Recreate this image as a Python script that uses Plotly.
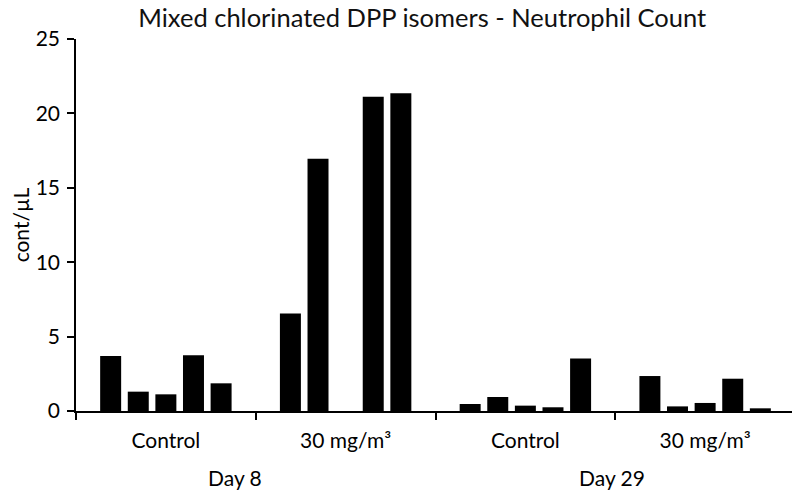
import plotly.graph_objects as go

groups = ["D8 Control", "D8 30", "D29 Control", "D29 30"]
group_labels = ["Control", "30 mg/m³", "Control", "30 mg/m³"]
day_labels = ["Day 8", "Day 29"]

# values per animal (series) across the four groups
animal1 = [3.70, 6.55, 0.47, 2.35]
animal2 = [1.30, 16.95, 0.94, 0.31]
animal3 = [1.12, None, 0.36, 0.54]
animal4 = [3.75, 21.12, 0.25, 2.17]
animal5 = [1.86, 21.36, 3.53, 0.18]

series = [animal1, animal2, animal3, animal4, animal5]

FONT = "Lato"
fig = go.Figure()
for s in series:
    fig.add_trace(go.Bar(x=groups, y=s, marker=dict(color="black", line=dict(width=0)),
                         showlegend=False))

fig.update_layout(
    width=792, height=488,
    barmode="group", bargap=0.232, bargroupgap=0.24,
    plot_bgcolor="white", paper_bgcolor="white",
    margin=dict(l=68, r=5, t=31, b=85, autoexpand=False),
    font=dict(family=FONT, color="black", size=21),
    title=dict(text="Mixed chlorinated DPP isomers - Neutrophil Count",
               x=0.523, xanchor="center", y=1, yanchor="top", pad=dict(t=1),
               font=dict(family=FONT, size=25.5, color="#111")),
)
fig.update_xaxes(
    type="category", tickvals=groups, ticktext=group_labels,
    tickson="boundaries", ticks="outside", ticklen=7, tickwidth=1.5, tickcolor="black",
    showline=True, linecolor="black", linewidth=1.5, showgrid=False,
    tickfont=dict(family=FONT, size=21, color="black"),
    ticklabelstandoff=10, automargin=False,
    range=[-0.5, 3.5],
)
fig.update_yaxes(
    range=[0, 25], dtick=5, ticks="outside", ticklen=7, tickwidth=1.5, tickcolor="black",
    showline=True, linecolor="black", linewidth=1.5, showgrid=False, zeroline=False,
    tickfont=dict(family=FONT, size=21, color="black"),
    ticklabelstandoff=3, automargin=False,
    title=dict(text="cont/µL", font=dict(family=FONT, size=21, color="black"), standoff=5),
)
for lab, xpos in zip(day_labels, [0.385, 2.48]):
    fig.add_annotation(text=lab, x=xpos, xref="x", y=-0.18, yref="paper",
                       showarrow=False, font=dict(family=FONT, size=21, color="black"),
                       yanchor="middle")

fig.write_html("out.html")
